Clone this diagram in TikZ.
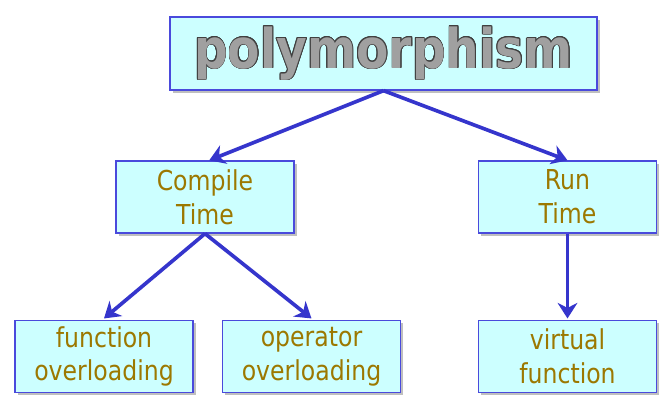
\documentclass[tikz,border=0pt]{standalone}
\usepackage{fontspec}
\setmainfont[FakeStretch=0.86]{DejaVu Sans}
\usepackage{contour}
\definecolor{boxfill}{HTML}{CCFFFF}
\definecolor{boxline}{HTML}{4A4ADC}
\definecolor{arrowblue}{HTML}{3535CC}
\definecolor{olivetext}{HTML}{9C7800}
\definecolor{titlegray}{HTML}{A0A0A0}
\definecolor{titleline}{HTML}{404040}
\usetikzlibrary{arrows.meta,shadows}
\contourlength{0.5pt}

\begin{document}
\begin{tikzpicture}[x=0.025cm,y=0.025cm,
    item/.style={draw=boxline,line width=0.9pt,fill=boxfill,align=center,
      minimum width=4.45cm,minimum height=1.8cm,inner sep=0pt,
      text=olivetext,font=\fontsize{19.5}{24}\selectfont,
      drop shadow={shadow xshift=2pt,shadow yshift=-2pt,fill=black,opacity=0.25}},
    link/.style={-{Stealth[length=11pt,width=14pt,inset=3.5pt]},line width=2.6pt,arrowblue}]
  \useasboundingbox (0,0) rectangle (671,408);
  % top box
  \node[item,minimum width=10.675cm,minimum height=1.825cm] (poly) at (383.5,354.5)
    {\fontsize{39}{40}\selectfont\bfseries\contour{titleline}{\textcolor{titlegray}{polymorphism}}};
  % middle row
  \node[item] (compile) at (205,211) {Compile\\Time};
  \node[item] (run) at (567.5,211) {Run\\Time};
  % bottom row
  \node[item] (func) at (104,51.5) {function\\overloading};
  \node[item] (oper) at (311.5,51.5) {operator\\overloading};
  \node[item] (virt) at (567.5,51.5) {virtual\\function};
  \draw[link] (poly.south) -- ([xshift=3pt]compile.north);
  \draw[link] (poly.south) -- (run.north);
  \draw[link] (compile.south) -- ([yshift=1pt]func.north);
  \draw[link] (compile.south) -- ([yshift=1pt]oper.north);
  \draw[link] (run.south) -- ([yshift=1pt]virt.north);
\end{tikzpicture}
\end{document}
